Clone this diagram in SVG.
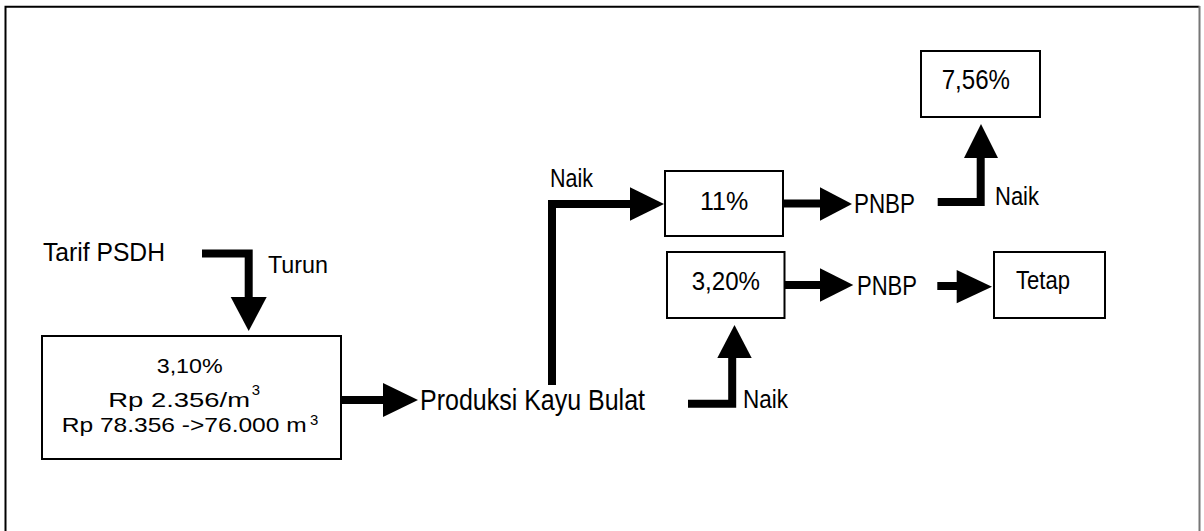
<svg xmlns="http://www.w3.org/2000/svg" width="1204" height="531" viewBox="0 0 1204 531">
  <style>
    .frame { fill: none; stroke: #000; stroke-width: 2; }
    .box { fill: #fff; stroke: #000; stroke-width: 2; }
    .lbl { font-family: "Liberation Sans Narrow", "Liberation Sans", Arial, sans-serif; fill: #000; }
    .body { font-family: "Liberation Sans", Arial, sans-serif; fill: #000; text-anchor: start; }
    .shaft { fill: none; stroke: #000; stroke-width: 8; stroke-linejoin: miter; stroke-linecap: butt; }
    .head { fill: #000; stroke: none; }
  </style>

  <rect width="1204" height="531" fill="#fff"/>

  <!-- page frame -->
  <path class="frame" d="M5.5 531 V6.7 H1199.5"/>
  <line x1="1199.5" y1="6" x2="1199.5" y2="531" stroke="#777" stroke-width="2"/>

  <!-- connectors -->
  <g id="connectors">
    <!-- Tarif PSDH turns down into the rate box -->
    <path class="shaft" d="M202 253.5 H248.7 V298" stroke-width="7.5"/>
    <polygon class="head" points="230.7,297 266.7,297 248.7,331"/>
    <text class="lbl" x="268" y="273" font-size="24" textLength="60" lengthAdjust="spacingAndGlyphs">Turun</text>

    <!-- rate box to log production -->
    <path class="shaft" d="M342 400 H384"/>
    <polygon class="head" points="383,383 383,417 418,400"/>

    <!-- production up to 11% -->
    <path class="shaft" d="M552 385 V204 H631"/>
    <polygon class="head" points="630,187.3 630,220.7 664,204"/>
    <text class="lbl" x="550" y="187" font-size="26" textLength="43" lengthAdjust="spacingAndGlyphs">Naik</text>

    <!-- production up to 3,20% -->
    <path class="shaft" d="M688 403.7 H732.2 V357"/>
    <polygon class="head" points="717.3,358 751.7,358 734.5,325"/>
    <text class="lbl" x="743" y="407.5" font-size="26" textLength="45" lengthAdjust="spacingAndGlyphs">Naik</text>

    <!-- 11% to PNBP -->
    <path class="shaft" d="M783 203.5 H821"/>
    <polygon class="head" points="820,187.3 820,220.7 852,204"/>

    <!-- PNBP up to 7,56% -->
    <path class="shaft" d="M937.7 202 H980.7 V157"/>
    <polygon class="head" points="964,158 998,158 981,124"/>
    <text class="lbl" x="995" y="205" font-size="26" textLength="44" lengthAdjust="spacingAndGlyphs">Naik</text>

    <!-- 3,20% to PNBP -->
    <path class="shaft" d="M785 285 H821"/>
    <polygon class="head" points="820,268.3 820,301.7 853.3,285"/>

    <!-- PNBP to Tetap -->
    <path class="shaft" d="M937.3 286 H958"/>
    <polygon class="head" points="956.7,270 956.7,303.3 992,286.7"/>
  </g>

  <!-- nodes -->
  <g id="tarif-psdh">
    <text class="lbl" x="43" y="261" font-size="25" textLength="122" lengthAdjust="spacingAndGlyphs">Tarif PSDH</text>
  </g>

  <g id="rate-box">
    <rect class="box" x="42" y="336" width="299" height="123"/>
    <text class="body" x="156.7" y="373" font-size="21" textLength="66" lengthAdjust="spacingAndGlyphs">3,10%</text>
    <text class="body" x="108.3" y="407" font-size="21" textLength="141.7" lengthAdjust="spacingAndGlyphs">Rp 2.356/m</text>
    <text class="body" x="251.7" y="395" font-size="14" textLength="8.3" lengthAdjust="spacingAndGlyphs">3</text>
    <text class="body" x="61.7" y="432" font-size="21" textLength="245" lengthAdjust="spacingAndGlyphs">Rp 78.356 -&gt;76.000 m</text>
    <text class="body" x="310" y="424.5" font-size="14" textLength="8.3" lengthAdjust="spacingAndGlyphs">3</text>
  </g>

  <g id="produksi-kayu-bulat">
    <text class="lbl" x="420" y="410" font-size="30" textLength="225" lengthAdjust="spacingAndGlyphs">Produksi Kayu Bulat</text>
  </g>

  <g id="box-11">
    <rect class="box" x="665" y="171" width="118" height="65"/>
    <text class="lbl" x="700" y="210" font-size="26" textLength="48.3" lengthAdjust="spacingAndGlyphs">11%</text>
  </g>

  <g id="box-320">
    <rect class="box" x="667" y="252" width="117.5" height="66"/>
    <text class="lbl" x="691.7" y="290" font-size="26" textLength="68.3" lengthAdjust="spacingAndGlyphs">3,20%</text>
  </g>

  <g id="pnbp-upper">
    <text class="lbl" x="854" y="213" font-size="28" textLength="61" lengthAdjust="spacingAndGlyphs">PNBP</text>
  </g>

  <g id="pnbp-lower">
    <text class="lbl" x="857" y="295" font-size="28" textLength="60" lengthAdjust="spacingAndGlyphs">PNBP</text>
  </g>

  <g id="box-756">
    <rect class="box" x="921" y="51" width="119" height="66"/>
    <text class="lbl" x="941.7" y="89" font-size="28" textLength="68.3" lengthAdjust="spacingAndGlyphs">7,56%</text>
  </g>

  <g id="box-tetap">
    <rect class="box" x="994" y="252" width="111" height="66"/>
    <text class="lbl" x="1016" y="289" font-size="26" textLength="54" lengthAdjust="spacingAndGlyphs">Tetap</text>
  </g>
</svg>
